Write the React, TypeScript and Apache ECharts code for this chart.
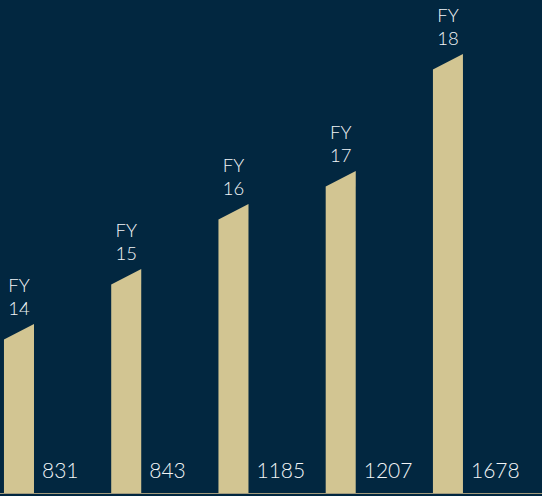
import React, { useEffect, useRef } from "react";
import * as echarts from "echarts";

const fyPrefix = "FY";
const yearLabels = ["14", "15", "16", "17", "18"];
const displayValues = [831, 843, 1185, 1207, 1678];
// relative bar levels (height of the right top corner), in chart units
const barLevels = [169, 224, 289, 322, 439];

const BG = "#022740";
const BAR = "#d2c592";
const TEXT = "#f2f5f7";

export default function App() {
  const ref = useRef<HTMLDivElement>(null);

  useEffect(() => {
    if (!ref.current) return;
    const chart = echarts.init(ref.current, undefined, { renderer: "svg" });
    const data = barLevels.map((h, i) => [i, h]);
    chart.setOption({
      animation: false,
      backgroundColor: BG,
      grid: { left: 0, right: 0, top: 0, bottom: 3 },
      xAxis: {
        type: "value",
        min: -0.177,
        max: 4.877,
        show: true,
        axisLine: { show: true, onZero: false, lineStyle: { color: "#a39b7d", width: 1 } },
        axisTick: { show: false },
        axisLabel: { show: false },
        splitLine: { show: false },
      },
      yAxis: {
        type: "value",
        min: 0,
        max: 493,
        show: false,
        splitLine: { show: false },
      },
      series: [
        {
          type: "custom",
          data,
          renderItem: (params: any, api: any) => {
            const idx = api.value(0);
            const h = api.value(1);
            const top = api.coord([idx, h]);
            const base = api.coord([idx, 0]);
            const w = api.size([0.28, 0])[0];
            const slant = w * 0.52;
            const x0 = top[0] - w / 2;
            const x1 = top[0] + w / 2;
            return {
              type: "group",
              children: [
                {
                  type: "polygon",
                  shape: {
                    points: [
                      [x0, base[1]],
                      [x0, top[1] + slant],
                      [x1, top[1]],
                      [x1, base[1]],
                    ],
                  },
                  style: { fill: BAR },
                },
                {
                  type: "text",
                  x: top[0],
                  y: top[1] - 39,
                  style: {
                    text: fyPrefix,
                    fill: TEXT,
                    font: "300 18.5px Lato",
                    align: "center",
                    verticalAlign: "middle",
                  },
                },
                {
                  type: "text",
                  x: top[0],
                  y: top[1] - 16.5,
                  style: {
                    text: yearLabels[idx],
                    fill: TEXT,
                    font: "300 18.5px Lato",
                    align: "center",
                    verticalAlign: "middle",
                  },
                },
                {
                  type: "text",
                  x: x1 + 8,
                  y: base[1] - 24,
                  style: {
                    text: String(displayValues[idx]),
                    fill: TEXT,
                    font: "300 21px Lato",
                    align: "left",
                    verticalAlign: "middle",
                  },
                },
              ],
            };
          },
        },
      ],
    });
    return () => chart.dispose();
  }, []);

  return (
    <div
      ref={ref}
      style={{ position: "fixed", left: 0, top: 0, width: 542, height: 496, background: BG }}
    />
  );
}
